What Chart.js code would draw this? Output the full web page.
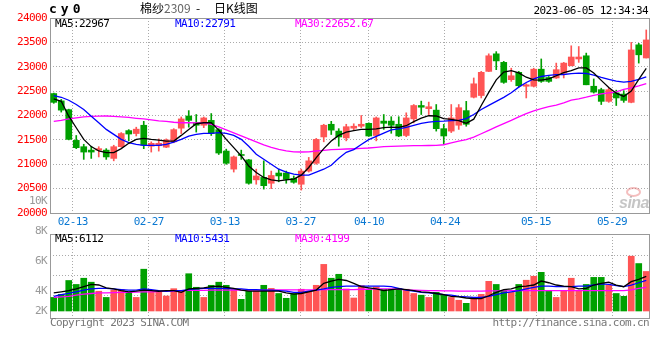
<!DOCTYPE html>
<html lang="zh-CN">
<head>
<meta charset="UTF-8">
<title>棉纱2309 - 日K线图</title>
<style>
  body { margin: 0; background: #fff; }
  #wrap { position: relative; width: 660px; height: 360px; overflow: hidden; }
  canvas { position: absolute; left: 0; }
  #kline { top: 0; }
  #vol { top: 190px; }
  .t { position: absolute; white-space: nowrap; font: 11px "DejaVu Sans Mono", monospace; letter-spacing: -0.6px; line-height: 12px; }
  .cjk { font-family: "Noto Sans CJK SC", sans-serif; font-size: 12px; letter-spacing: 0; }
</style>
<script src="https://cdn.jsdelivr.net/npm/chart.js"></script>
</head>
<body>
<div id="wrap">
  <canvas id="kline" width="660" height="232"></canvas>
  <canvas id="vol" width="660" height="140"></canvas>

  <div class="t" style="left:49px;top:3px;font-weight:bold;font-size:13px;letter-spacing:4px">cy0</div>
  <div class="t cjk" style="left:140px;top:2px">棉纱<span style="color:#666">2309</span></div>
  <div class="t cjk" style="left:196px;top:2px">-</div>
  <div class="t cjk" style="left:214px;top:2px">日K线图</div>
  <div class="t" style="right:12px;top:5px">2023-06-05 12:34:34</div>

  <div class="t" style="left:55px;top:18px;color:#000">MA5:22967</div>
  <div class="t" style="left:175px;top:18px;color:#00f">MA10:22791</div>
  <div class="t" style="left:295px;top:18px;color:#f0f">MA30:22652.67</div>

  <div class="t" style="left:55px;top:233px;color:#000">MA5:6112</div>
  <div class="t" style="left:175px;top:233px;color:#00f">MA10:5431</div>
  <div class="t" style="left:295px;top:233px;color:#f0f">MA30:4199</div>

  <div class="t" style="left:50px;top:317px;color:#777">Copyright 2023 SINA.COM</div>
  <div class="t" style="right:11px;top:317px;color:#777">http://finance.sina.com.cn</div>

  <div style="position:absolute;left:626px;top:187px;width:11px;height:6px;border:2px solid rgba(230,110,110,0.45);border-radius:50%"></div>
  <div class="t" style="left:619px;top:194px;font:italic bold 16px 'Liberation Sans',sans-serif;letter-spacing:-0.5px;color:rgba(150,150,150,0.55)">sina</div>
</div>

<script>
// date ticks (index of the trading day) and their labels
const tickIdx = [3, 13, 23, 33, 42, 52, 64, 74];
const tickLabels = ['02-13', '02-27', '03-13', '03-27', '04-10', '04-24', '05-15', '05-29'];

// daily K line, 02-08 .. 06-05
const open = [22450, 22300, 22120, 21490, 21360, 21290, 21290, 21290, 21120, 21360,
  21690, 21630, 21800, 21370, 21380, 21350, 21460, 21740, 21990, 21850,
  21800, 21900, 21710, 21270, 20900, 21200, 21090, 20680, 20730, 20610,
  20820, 20820, 20710, 20590, 20860, 21020, 21560, 21820, 21680, 21540,
  21740, 21780, 21840, 21590, 21885, 21885, 21820, 21590, 21930, 22205,
  22140, 22110, 21730, 21680, 21800, 22100, 22375, 22410, 22905, 23265,
  23090, 22735, 22885, 22600, 22600, 22950, 22780, 22770, 22870, 23020,
  23160, 23225, 22600, 22530, 22290, 22465, 22440, 22270, 23450, 23180];
const close = [22270, 22110, 21510, 21340, 21250, 21250, 21320, 21150, 21360, 21630,
  21620, 21720, 21390, 21430, 21430, 21500, 21710, 21930, 21900, 21800,
  21950, 21630, 21230, 21020, 21150, 21180, 20610, 20760, 20560, 20770,
  20760, 20690, 20630, 20860, 21070, 21510, 21800, 21700, 21560, 21770,
  21780, 21820, 21580, 21950, 21840, 21800, 21580, 21950, 22205, 22170,
  22180, 21730, 21580, 21950, 22160, 21820, 22650, 22885, 23225, 23120,
  22680, 22815, 22610, 22630, 22950, 22700, 22700, 22940, 23075, 23200,
  23200, 22630, 22480, 22290, 22530, 22360, 22310, 23345, 23245, 23550];
const high = [22460, 22330, 22130, 21590, 21410, 21370, 21360, 21320, 21390, 21650,
  21710, 21760, 21880, 21460, 21520, 21520, 21730, 21970, 22100, 22020,
  21970, 22040, 21730, 21310, 21170, 21290, 21100, 20900, 21070, 20860,
  20900, 20860, 20760, 20900, 21140, 21530, 21820, 21880, 21730, 21820,
  21830, 22000, 21850, 21970, 22020, 21975, 21975, 22055, 22225, 22295,
  22275, 22225, 21820, 22225, 22225, 22290, 22770, 22905, 23265, 23310,
  23110, 22970, 22905, 22650, 22970, 23160, 22800, 23075, 23090, 23430,
  23415, 23280, 22750, 22560, 22560, 22520, 22510, 23500, 23480, 23755];
const low = [22250, 22070, 21500, 21320, 21100, 21120, 21150, 21100, 21070, 21350,
  21480, 21580, 21320, 21250, 21270, 21340, 21440, 21630, 21760, 21660,
  21750, 21590, 21200, 21000, 20840, 21100, 20590, 20590, 20490, 20500,
  20640, 20610, 20610, 20470, 20840, 21000, 21460, 21610, 21370, 21480,
  21700, 21750, 21570, 21480, 21715, 21635, 21565, 21565, 21850, 22020,
  22020, 21680, 21410, 21650, 21715, 21780, 22360, 22360, 22900, 22940,
  22660, 22700, 22585, 22360, 22585, 22680, 22680, 22760, 22770, 23020,
  23090, 22630, 22460, 22225, 22270, 22205, 22270, 22260, 23075, 23180];

// moving averages as drawn
const ma5 = [22341, 22292, 21986, 21749, 21510, 21362, 21272, 21239, 21239, 21321,
  21429, 21510, 21531, 21510, 21496, 21476, 21476, 21592, 21715, 21831,
  21851, 21851, 21700, 21510, 21341, 21170, 20965, 20831, 20729, 20680,
  20660, 20680, 20694, 20776, 20933, 21137, 21321, 21476, 21592, 21660,
  21690, 21715, 21715, 21725, 21750, 21762, 21755, 21790, 21875, 21945,
  21995, 21990, 21935, 21919, 21895, 21840, 21925, 22205, 22475, 22730,
  22890, 22920, 22875, 22785, 22730, 22725, 22750, 22815, 22880, 22920,
  22978, 22975, 22870, 22720, 22575, 22457, 22391, 22500, 22740, 22967];
const ma10 = [22409, 22374, 22313, 22225, 22123, 21986, 21851, 21715, 21612, 21510,
  21443, 21408, 21388, 21388, 21388, 21408, 21455, 21510, 21578, 21612,
  21633, 21633, 21647, 21633, 21592, 21510, 21368, 21204, 21102, 21000,
  20898, 20837, 20796, 20776, 20776, 20837, 20898, 20980, 21123, 21245,
  21300, 21405, 21505, 21570, 21640, 21705, 21725, 21755, 21797, 21838,
  21866, 21878, 21884, 21894, 21902, 21937, 22021, 22123, 22209, 22290,
  22372, 22466, 22582, 22678, 22753, 22800, 22821, 22837, 22841, 22860,
  22868, 22862, 22827, 22782, 22741, 22703, 22685, 22698, 22740, 22791];
const ma30 = [21878, 21898, 21929, 21950, 21970, 21980, 21986, 21990, 21980, 21970,
  21960, 21943, 21929, 21909, 21888, 21878, 21862, 21851, 21851, 21847,
  21847, 21817, 21766, 21704, 21643, 21582, 21521, 21460, 21398, 21347,
  21306, 21276, 21255, 21251, 21255, 21272, 21286, 21300, 21306, 21313,
  21318, 21325, 21333, 21347, 21360, 21366, 21370, 21375, 21380, 21383,
  21385, 21387, 21400, 21440, 21475, 21507, 21555, 21625, 21695, 21768,
  21835, 21900, 21971, 22040, 22097, 22141, 22180, 22212, 22258, 22314,
  22343, 22376, 22414, 22442, 22462, 22485, 22534, 22569, 22609, 22653];

// volume, in K
const vol = [2.4, 2.95, 5.4, 4.7, 5.8, 5.1, 3.5, 2.4, 3.7, 3.8,
  3.3, 2.4, 7.4, 3.4, 3.5, 2.65, 3.95, 3.65, 6.6, 4.2,
  2.4, 4.55, 5.1, 4.55, 3.8, 2.07, 3.5, 3.5, 4.55, 4.0,
  3.1, 2.25, 3.1, 3.85, 3.5, 4.55, 8.25, 5.8, 6.5, 3.9,
  2.3, 4.5, 3.85, 4.25, 3.85, 3.85, 3.95, 3.85, 3.1, 2.8,
  2.4, 3.3, 2.8, 2.4, 1.9, 1.36, 2.4, 2.95, 5.25, 4.7,
  3.65, 3.3, 4.7, 5.45, 6.15, 6.85, 3.5, 2.4, 3.5, 5.8,
  3.5, 4.7, 5.95, 5.95, 4.55, 3.1, 2.6, 9.7, 8.4, 7.0];
const volMa5 = [3.2, 3.4, 3.6, 3.9, 4.3, 4.7, 4.6, 4.1, 3.9, 3.6,
  3.4, 3.5, 3.7, 3.6, 3.5, 3.6, 3.6, 3.3, 3.9, 4.0,
  4.1, 4.3, 4.4, 4.2, 4.0, 3.7, 3.5, 3.5, 3.5, 3.5,
  3.5, 3.2, 3.0, 3.1, 3.4, 3.7, 4.9, 5.3, 5.6, 5.4,
  4.9, 4.3, 4.1, 3.9, 3.6, 3.8, 3.9, 3.8, 3.6, 3.4,
  3.3, 3.1, 2.9, 2.6, 2.5, 2.3, 2.2, 2.2, 2.7, 3.3,
  3.8, 3.9, 4.3, 4.4, 4.6, 5.3, 5.0, 4.6, 4.4, 4.3,
  3.9, 4.0, 4.6, 4.9, 5.1, 4.6, 4.3, 5.2, 5.6, 6.11];
const volMa10 = [2.6, 2.9, 3.1, 3.4, 3.7, 3.9, 4.0, 4.0, 3.9, 3.8,
  3.7, 3.7, 3.9, 3.8, 3.6, 3.5, 3.6, 3.6, 3.8, 3.9,
  4.0, 4.0, 4.0, 4.0, 3.9, 3.9, 3.8, 3.8, 3.7, 3.7,
  3.6, 3.5, 3.3, 3.3, 3.5, 3.7, 3.9, 4.2, 4.3, 4.4,
  4.4, 4.4, 4.4, 4.4, 4.4, 4.3, 4.0, 3.7, 3.5, 3.3,
  3.2, 3.1, 2.9, 2.8, 2.6, 2.5, 2.4, 2.4, 2.6, 2.9,
  3.2, 3.4, 3.6, 3.9, 4.2, 4.4, 4.4, 4.3, 4.3, 4.3,
  4.4, 4.4, 4.6, 4.8, 4.7, 4.5, 4.3, 4.6, 5.0, 5.43];
const volMa30 = [2.4, 2.5, 2.6, 2.8, 3.0, 3.1, 3.2, 3.2, 3.25, 3.3,
  3.3, 3.35, 3.4, 3.4, 3.45, 3.5, 3.5, 3.6, 3.65, 3.65,
  3.65, 3.7, 3.7, 3.7, 3.7, 3.7, 3.7, 3.7, 3.7, 3.7,
  3.75, 3.75, 3.75, 3.75, 3.75, 3.75, 3.8, 3.8, 3.8, 3.8,
  3.8, 3.85, 3.85, 3.9, 3.9, 3.9, 3.85, 3.75, 3.7, 3.65,
  3.6, 3.6, 3.55, 3.55, 3.5, 3.5, 3.5, 3.5, 3.55, 3.55,
  3.55, 3.6, 3.6, 3.6, 3.6, 3.6, 3.6, 3.6, 3.6, 3.6,
  3.6, 3.6, 3.6, 3.6, 3.6, 3.6, 3.6, 3.75, 4.0, 4.2];
const volGrid = [2.66, 6.37, 9.91];
const volTickLabels = ['10K', '8K', '6K', '4K', '2K'];

const RED = '#ff5555', GREEN = '#00a000';
const MONO = '"DejaVu Sans Mono", monospace';
Chart.defaults.font.family = MONO;
Chart.defaults.font.size = 11;

const colors = close.map((c, i) => c >= open[i] ? RED : GREEN);
const pts = arr => arr.map((v, i) => ({ x: i, y: v }));

// grey box round each panel + tighter glyphs like the original bitmap font
const frame = {
  id: 'frame',
  beforeDraw(c) { c.ctx.letterSpacing = '-0.6px'; },
  beforeDatasetsDraw(c) {
    const { ctx, chartArea: a } = c;
    ctx.save();
    ctx.strokeStyle = '#999';
    ctx.lineWidth = 1;
    ctx.strokeRect(a.left + 0.5, a.top + 0.5, a.width - 1, a.height);
    ctx.restore();
  }
};

const volLabels = {
  id: 'volLabels',
  afterDraw(c) {
    const ctx = c.ctx;
    const ys = [11, 41, 71, 101, 121];
    ctx.save();
    ctx.font = '11px ' + MONO;
    ctx.fillStyle = '#999';
    ctx.textAlign = 'right';
    ctx.textBaseline = 'middle';
    volTickLabels.forEach((t, k) => ctx.fillText(t, 47, ys[k]));
    ctx.restore();
  }
};

const slotAxis = { type: 'linear', min: -0.5, max: 79.5, offset: false, display: false };

function dayAxis(withLabels) {
  return {
    type: 'linear', min: 0, max: 79, offset: false, position: 'bottom',
    afterBuildTicks: s => { s.ticks = tickIdx.map(v => ({ value: v })); },
    afterFit: s => { s.height = withLabels ? 15 : 0; },
    grid: { color: '#aaa', drawTicks: false, offset: false },
    border: { display: false, dash: [1, 2] },
    ticks: {
      display: withLabels, padding: 3, color: '#0a78d2', maxRotation: 0, autoSkip: false,
      callback: v => tickLabels[tickIdx.indexOf(v)]
    }
  };
}

const lineSet = (arr, color) => ({
  type: 'line', data: pts(arr), xAxisID: 'x', borderColor: color,
  borderWidth: 1.3, pointRadius: 0, tension: 0, order: 0
});

new Chart(document.getElementById('kline'), {
  type: 'bar',
  data: {
    datasets: [
      lineSet(ma5, '#000'),
      lineSet(ma10, '#0000ff'),
      lineSet(ma30, '#ff00ff'),
      {
        data: open.map((o, i) => ({ x: i, y: [o, close[i]] })), xAxisID: 'x',
        backgroundColor: colors, barThickness: 6, grouped: false, minBarLength: 1, order: 1
      },
      {
        data: low.map((l, i) => ({ x: i, y: [l, high[i]] })), xAxisID: 'x',
        backgroundColor: colors, barThickness: 1, grouped: false, order: 2
      }
    ]
  },
  options: {
    responsive: false, animation: false, events: [],
    layout: { padding: { top: 18, right: 10, bottom: 4, left: 0 } },
    plugins: { legend: { display: false }, tooltip: { enabled: false } },
    scales: {
      x: slotAxis,
      xd: dayAxis(true),
      y: {
        min: 20000, max: 24000,
        afterFit: s => { s.width = 50; },
        grid: { color: '#aaa', drawTicks: false },
        border: { display: false, dash: [1, 2] },
        ticks: { stepSize: 500, color: '#ff0000', padding: 3, callback: v => String(v) }
      }
    }
  },
  plugins: [frame]
});

new Chart(document.getElementById('vol'), {
  type: 'bar',
  data: {
    datasets: [
      lineSet(volMa5, '#000'),
      lineSet(volMa10, '#0000ff'),
      lineSet(volMa30, '#ff00ff'),
      {
        data: pts(vol), xAxisID: 'x', backgroundColor: colors,
        barThickness: 6, grouped: false, order: 1
      }
    ]
  },
  options: {
    responsive: false, animation: false, events: [],
    layout: { padding: { top: 44, right: 10, bottom: 12, left: 0 } },
    plugins: { legend: { display: false }, tooltip: { enabled: false } },
    scales: {
      x: slotAxis,
      xd: dayAxis(false),
      y: {
        min: -1.24, max: 13.63,
        afterBuildTicks: s => { s.ticks = volGrid.map(v => ({ value: v })); },
        afterFit: s => { s.width = 50; },
        grid: { color: '#aaa', drawTicks: false },
        border: { display: false, dash: [1, 2] },
        ticks: { display: false }
      }
    }
  },
  plugins: [frame, volLabels]
});
</script>
</body>
</html>
